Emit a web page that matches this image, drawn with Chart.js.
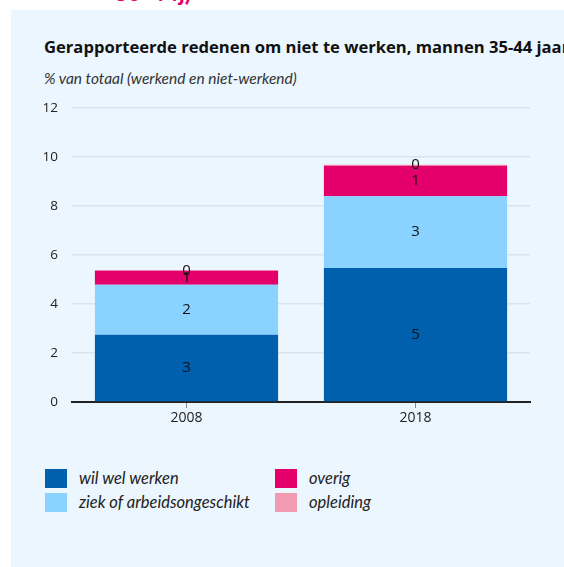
<!DOCTYPE html>
<html>
<head>
<meta charset="utf-8">
<script src="https://cdn.jsdelivr.net/npm/chart.js@4.4.1/dist/chart.umd.min.js"></script>
<style>
  html, body { margin: 0; padding: 0; background: #fff; width: 564px; height: 567px; overflow: hidden; }
  body { position: relative; font-family: Lato, "Open Sans", sans-serif; }
  #top { position: absolute; left: 114px; top: -23px; color: #e4006b; font-size: 24px; font-weight: bold; white-space: nowrap; }
  #panel { position: absolute; left: 11px; top: 10px; width: 553px; height: 557px; background: #ebf6fe; }
  #title { position: absolute; left: 44px; top: 35px; font-family: "Open Sans", sans-serif; font-size: 16.6px; font-weight: bold; color: #111; white-space: nowrap; }
  #subtitle { position: absolute; left: 44px; top: 69px; font-size: 15.5px; font-style: italic; color: #333; white-space: nowrap; }
  #wrap { position: absolute; left: 11px; top: 86px; width: 553px; height: 354px; }
  .leg { position: absolute; font-size: 16.5px; font-style: italic; color: #222; white-space: nowrap; }
  .leg span { position: absolute; left: 0; top: 0; width: 22px; height: 19px; }
  .leg b { position: absolute; left: 34px; top: 0; font-weight: normal; line-height: 19px; }
</style>
</head>
<body>
<div id="top">35-44j)</div>
<div id="panel"></div>
<div id="title">Gerapporteerde redenen om niet te werken, mannen 35-44 jaar</div>
<div id="subtitle">% van totaal (werkend en niet-werkend)</div>
<div id="wrap"><canvas id="Chart" width="553" height="354"></canvas></div>
<div id="legend"></div>

<script>
const years = ['2008', '2018'];
const seriesNames = ['wil wel werken', 'ziek of arbeidsongeschikt', 'overig', 'opleiding'];
const wilWelWerken = [2.75, 5.47];
const ziek = [2.04, 2.93];
const overig = [0.57, 1.25];
const opleiding = [0.03, 0.04];
const yTicks = [0, 2, 4, 6, 8, 10, 12];
const colors = ['#0060ad', '#8ad2ff', '#e4006b', '#f29ab2'];

const seriesValues = [wilWelWerken, ziek, overig, opleiding];

const valueLabels = {
    id: 'valueLabels',
    afterDatasetsDraw(chart) {
        const ctx = chart.ctx;
        ctx.save();
        ctx.font = '15px "Open Sans", sans-serif';
        ctx.fillStyle = '#111';
        ctx.textAlign = 'center';
        ctx.textBaseline = 'middle';
        chart.data.datasets.forEach((ds, i) => {
            chart.getDatasetMeta(i).data.forEach((bar, j) => {
                const y = (bar.y + bar.base) / 2;
                ctx.fillText(String(Math.round(ds.data[j])), bar.x, y);
            });
        });
        ctx.restore();
    },
};

const config = {
    type: 'bar',
    data: {
        labels: years,
        datasets: seriesNames.map((name, i) => ({
            label: name,
            data: seriesValues[i],
            backgroundColor: colors[i],
            borderWidth: 0,
            categoryPercentage: 0.8,
            barPercentage: 1,
        })),
    },
    options: {
        responsive: false,
        animation: false,
        layout: { padding: { left: 0, right: 34, top: 4, bottom: 0 } },
        plugins: {
            legend: { display: false },
            tooltip: { enabled: false },
        },
        scales: {
            x: {
                stacked: true,
                border: { display: true, color: '#222', width: 2 },
                grid: { drawOnChartArea: false, drawTicks: true, tickLength: 6, offset: false, color: '#888' },
                ticks: { color: '#222', font: { family: '"Open Sans", sans-serif', size: 14 }, padding: 2 },
                afterFit(scale) { scale.height = 38; },
            },
            y: {
                stacked: true,
                min: 0,
                max: 12,
                border: { display: false },
                grid: { color: '#dce3ea', lineWidth: 1.5, drawTicks: false },
                afterBuildTicks(scale) { scale.ticks = yTicks.map(v => ({ value: v })); },
                ticks: { color: '#222', font: { family: '"Open Sans", sans-serif', size: 13.5 }, padding: 14 },
                afterFit(scale) { scale.width = 61; },
            },
        },
    },
    plugins: [valueLabels],
};

const ctx = document.getElementById('Chart').getContext('2d');
const myChart = new Chart(ctx, config);

// legend, two columns
const legendPos = [[45, 469], [45, 493], [275, 469], [275, 493]];
const legend = document.getElementById('legend');
seriesNames.forEach((name, i) => {
    const d = document.createElement('div');
    d.className = 'leg';
    d.style.left = legendPos[i][0] + 'px';
    d.style.top = legendPos[i][1] + 'px';
    d.innerHTML = '<span style="background:' + colors[i] + '"></span><b>' + name + '</b>';
    legend.appendChild(d);
});
</script>
</body>
</html>
